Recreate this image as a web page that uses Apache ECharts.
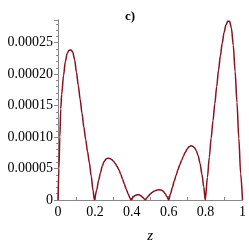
<!DOCTYPE html>
<html><head><meta charset="utf-8">
<script src="https://cdn.jsdelivr.net/npm/echarts@6/dist/echarts.min.js"></script>
<style>html,body{margin:0;padding:0;background:#fff}#c{width:249px;height:249px}</style>
</head><body><div id="c"></div>
<script>
var zValues = [0,0.005,0.01,0.015,0.02,0.03,0.04,0.05,0.06,0.07,0.08,0.09,0.10,0.11,0.12,0.13,0.14,0.15,0.16,0.17,0.18,0.19,0.197,
 0.21,0.22,0.23,0.24,0.25,0.26,0.27,0.28,0.29,0.30,0.31,0.32,0.33,0.34,0.35,0.36,0.37,0.38,0.39,0.395,
 0.40,0.41,0.42,0.43,0.44,0.45,0.46,0.47,0.474,
 0.48,0.49,0.50,0.51,0.52,0.53,0.54,0.55,0.56,0.57,0.58,0.59,0.60,
 0.61,0.62,0.63,0.64,0.65,0.66,0.67,0.68,0.69,0.70,0.71,0.72,0.73,0.74,0.75,0.76,0.77,0.78,0.79,0.798,
 0.81,0.82,0.83,0.84,0.85,0.86,0.87,0.88,0.89,0.90,0.91,0.92,0.93,0.94,0.95,0.96,0.97,0.98,0.99,1.0];
var yValues = [0,5.0e-5,1.0e-4,1.45e-4,1.68e-4,1.98e-4,2.20e-4,2.33e-4,2.38e-4,2.385e-4,2.35e-4,2.23e-4,2.03e-4,1.82e-4,1.60e-4,1.38e-4,1.16e-4,0.96e-4,0.77e-4,0.59e-4,0.38e-4,0.15e-4,0,
 1.6e-5,3.1e-5,4.3e-5,5.4e-5,6.1e-5,6.5e-5,6.65e-5,6.6e-5,6.45e-5,6.2e-5,5.8e-5,5.35e-5,4.8e-5,4.1e-5,3.3e-5,2.5e-5,1.7e-5,1.0e-5,0.3e-5,0,
 0.25e-5,0.55e-5,0.75e-5,0.85e-5,0.83e-5,0.65e-5,0.4e-5,0.12e-5,0,
 0.3e-5,0.65e-5,0.95e-5,1.2e-5,1.4e-5,1.52e-5,1.6e-5,1.62e-5,1.58e-5,1.4e-5,1.05e-5,0.55e-5,0,
 1.0e-5,2.0e-5,3.0e-5,3.9e-5,4.8e-5,5.6e-5,6.3e-5,7.0e-5,7.6e-5,8.1e-5,8.45e-5,8.6e-5,8.55e-5,8.3e-5,7.8e-5,7.0e-5,5.8e-5,4.1e-5,2.1e-5,0,
 3.6e-5,6.8e-5,9.8e-5,12.6e-5,15.3e-5,18.0e-5,20.6e-5,22.9e-5,24.9e-5,26.6e-5,27.8e-5,28.4e-5,28.4e-5,27.3e-5,24.6e-5,20.4e-5,15.5e-5,9.8e-5,4.2e-5,0];
var xTicks = [0,0.2,0.4,0.6,0.8,1];
var yTicks = [0,0.00005,0.0001,0.00015,0.0002,0.00025];
var yLabels = ['0','0.00005','0.00010','0.00015','0.00020','0.00025'];

var data = zValues.map(function(z,i){return [z,yValues[i]];});
var chart = echarts.init(document.getElementById('c'), null, {renderer:'canvas'});
var font = '"Liberation Serif", "DejaVu Serif", serif';
chart.setOption({
  animation:false,
  title:{text:'c)', left:125, top:5, textAlign:'center',
    textStyle:{fontFamily:font, fontSize:13, fontWeight:'bold', color:'#000'}},
  grid:{left:58, right:6, top:20, bottom:39},
  xAxis:{type:'value', min:0, max:1, interval:0.2,
    name:'z', nameLocation:'middle', nameGap:29,
    nameTextStyle:{fontFamily:font, fontStyle:'italic', fontSize:15, color:'#000'},
    axisLine:{lineStyle:{color:'#888', width:1}},
    axisTick:{show:true, inside:true, length:4, lineStyle:{color:'#888'}},
    minorTick:{show:true, splitNumber:2, length:3, lineStyle:{color:'#888'}},
    splitLine:{show:false},
    axisLabel:{fontFamily:font, fontSize:14, color:'#000', margin:5,
      formatter:function(v){var i=xTicks.indexOf(Math.round(v*10)/10);return i>=0?String(xTicks[i]):'';}}
  },
  yAxis:{type:'value', min:0, max:0.000286, interval:0.00005,
    axisLine:{show:true, lineStyle:{color:'#888', width:1}},
    axisTick:{show:true, length:4, lineStyle:{color:'#888'}},
    minorTick:{show:true, splitNumber:5, length:2, lineStyle:{color:'#888'}},
    splitLine:{show:false},
    axisLabel:{fontFamily:font, fontSize:14, color:'#000', margin:5, showMaxLabel:false,
      formatter:function(v){for(var i=0;i<yTicks.length;i++){if(Math.abs(v-yTicks[i])<1e-9)return yLabels[i];}return '';}}
  },
  series:[{type:'line', data:data, showSymbol:false, smooth:0.3, smoothMonotone:'x',
    lineStyle:{color:'#8b1020', width:1.5}}]
});
</script></body></html>
